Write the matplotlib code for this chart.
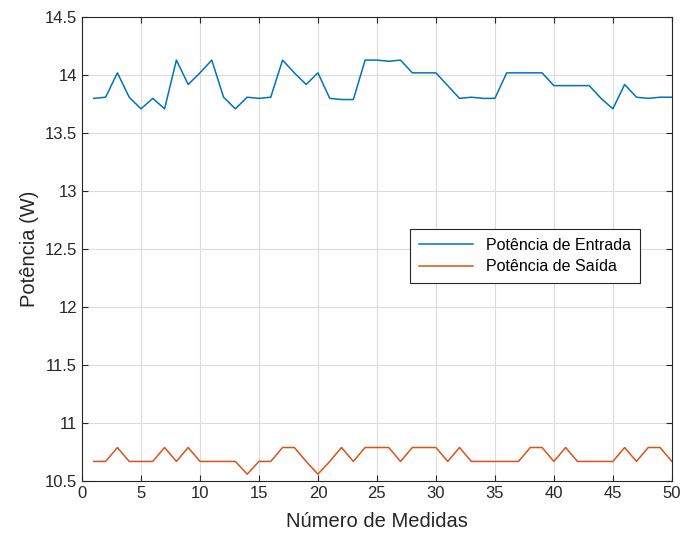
import matplotlib.pyplot as plt
import numpy as np

plt.rcParams['font.family'] = ['Liberation Sans', 'DejaVu Sans']

# número da medida
medidas = np.arange(1, 51)

# potência de entrada (W)
p_entrada = [13.80, 13.81, 14.02, 13.81, 13.71, 13.80, 13.71, 14.13, 13.92, 14.02,
             14.13, 13.81, 13.71, 13.81, 13.80, 13.81, 14.13, 14.02, 13.92, 14.02,
             13.80, 13.79, 13.79, 14.13, 14.13, 14.12, 14.13, 14.02, 14.02, 14.02,
             13.91, 13.80, 13.81, 13.80, 13.80, 14.02, 14.02, 14.02, 14.02, 13.91,
             13.91, 13.91, 13.91, 13.80, 13.71, 13.92, 13.81, 13.80, 13.81, 13.81]

# potência de saída (W)
p_saida = [10.67, 10.67, 10.79, 10.67, 10.67, 10.67, 10.79, 10.67, 10.79, 10.67,
           10.67, 10.67, 10.67, 10.56, 10.67, 10.67, 10.79, 10.79, 10.67, 10.56,
           10.67, 10.79, 10.67, 10.79, 10.79, 10.79, 10.67, 10.79, 10.79, 10.79,
           10.67, 10.79, 10.67, 10.67, 10.67, 10.67, 10.67, 10.79, 10.79, 10.67,
           10.79, 10.67, 10.67, 10.67, 10.67, 10.79, 10.67, 10.79, 10.79, 10.67]

fig = plt.figure(figsize=(6.8, 5.37), dpi=100)
ax = fig.add_axes([0.1206, 0.104, 0.8674, 0.864])

ax.plot(medidas, p_entrada, color='#0072BD', lw=1.1, label='Potência de Entrada')
ax.plot(medidas, p_saida, color='#D95319', lw=1.1, label='Potência de Saída')

ax.set_xlim(0, 50)
ax.set_ylim(10.5, 14.5)
ax.set_xticks(np.arange(0, 51, 5))
ax.set_yticks(np.arange(10.5, 14.51, 0.5))
ax.set_yticklabels(['10.5', '11', '11.5', '12', '12.5', '13', '13.5', '14', '14.5'])
ax.tick_params(direction='in', length=4, width=0.8, labelsize=12,
               top=True, right=True, colors='#262626')
ax.grid(True, color='#dcdcdc', lw=0.8)
ax.set_axisbelow(True)
for s in ax.spines.values():
    s.set_color('#262626')
    s.set_linewidth(0.8)

ax.set_xlabel('Número de Medidas', fontsize=14.5, color='#262626', labelpad=8)
ax.set_ylabel('Potência (W)', fontsize=14.5, color='#262626', labelpad=4)

leg = ax.legend(loc='lower right', bbox_to_anchor=(0.946, 0.427), fontsize=11.5,
                fancybox=False, framealpha=1, edgecolor='#262626',
                handlelength=3.4, borderpad=0.55, labelspacing=0.4,
                borderaxespad=0)
leg.get_frame().set_linewidth(0.8)

plt.savefig('out.png', dpi=100)
